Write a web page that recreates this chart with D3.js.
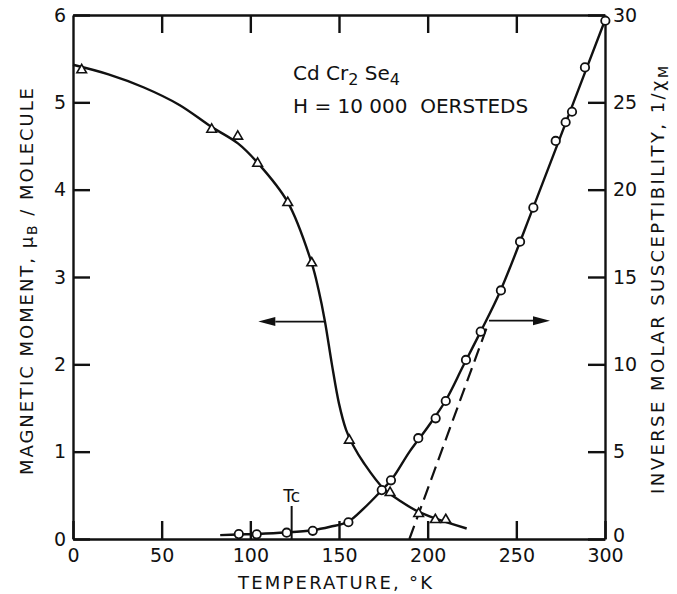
<!DOCTYPE html>
<html>
<head>
<meta charset="utf-8">
<script src="https://cdn.jsdelivr.net/npm/d3@7"></script>
<style>
  body { margin: 0; background: #fff; }
  svg { display: block; font-family: "DejaVu Sans", sans-serif; }
  .axis path, .axis line { stroke: #111; stroke-width: 2.4; }
  .axis text { font-size: 19px; fill: #111; font-family: "DejaVu Sans", sans-serif; }
</style>
</head>
<body>
<svg id="chart" width="677" height="594"></svg>
<script>
// tick values
var tempTicks = [0, 50, 100, 150, 200, 250, 300];
var momentTicks = [0, 1, 2, 3, 4, 5, 6];
var suscTicks = [0, 5, 10, 15, 20, 25, 30];

// measured points: magnetic moment (triangles, left axis)
var momentTemp = [4.9, 78.2, 92.9, 104.1, 121.1, 134.6, 155.8, 178.8, 194.9, 204.3, 210.2];
var momentValue = [5.37, 4.69, 4.61, 4.30, 3.85, 3.16, 1.13, 0.53, 0.29, 0.22, 0.22];

// measured points: inverse molar susceptibility (circles, right axis)
var suscTemp = [93.5, 103.6, 120.5, 135.2, 155.3, 174.1, 179.3, 194.7, 204.5, 210.2, 221.6, 229.9, 241.3, 252.1, 259.6, 272.2, 277.8, 281.4, 288.7, 300.2];
var suscValue = [0.28, 0.27, 0.36, 0.47, 0.96, 2.8, 3.36, 5.77, 6.91, 7.90, 10.25, 11.87, 14.23, 17.02, 18.97, 22.79, 23.86, 24.46, 27.0, 29.67];

// drawn-through curves
var momentCurveTemp = [0, 20, 40, 60, 78, 93, 104, 121, 134.6, 138.5, 142, 146, 150, 154, 158, 164, 175, 185, 195, 205, 222];
var momentCurveValue = [5.43, 5.32, 5.17, 4.97, 4.72, 4.53, 4.31, 3.86, 3.16, 2.85, 2.5, 2.0, 1.55, 1.25, 1.07, 0.87, 0.58, 0.43, 0.31, 0.23, 0.12];
var suscCurveTemp = [83, 93, 104, 120, 135, 145, 155, 164, 174, 180, 190, 200, 210, 220, 230, 241, 260, 280, 300];
var suscCurveValue = [0.22, 0.26, 0.29, 0.37, 0.5, 0.7, 0.98, 1.75, 2.78, 3.45, 5.03, 6.4, 7.9, 9.9, 11.9, 14.2, 19.1, 24.4, 29.7];

// Curie-Weiss extrapolation (dashed)
var dashTemp = [189.7, 234.2];
var dashValue = [0, 12.35];

// arrows pointing to each curve's axis
var arrowMomentTemp = [142, 104.5], arrowMomentValue = 2.49;
var arrowSuscTemp = [234.6, 269], arrowSuscValue = 12.5;

var tcTemp = 123.3;

(function draw() {
    var svg = d3.select("#chart");
    var plotLeft = 73, plotRight = 605, plotTop = 15, plotBottom = 539;

    var x = d3.scaleLinear().domain([0, 300]).range([plotLeft, plotRight]);
    var yL = d3.scaleLinear().domain([0, 6]).range([plotBottom, plotTop]);
    var yR = d3.scaleLinear().domain([0, 30]).range([plotBottom, plotTop]);
    var fmt = d3.format("d");

    // axes, ticks pointing inward
    svg.append("g").attr("class", "axis")
        .attr("transform", "translate(0," + plotBottom + ")")
        .call(d3.axisBottom(x).tickValues(tempTicks).tickFormat(fmt).tickSizeInner(-18).tickSizeOuter(0).tickPadding(10));
    svg.append("g").attr("class", "axis")
        .attr("transform", "translate(0," + plotTop + ")")
        .call(d3.axisTop(x).tickValues(tempTicks.slice(1, -1)).tickSizeInner(-18).tickSizeOuter(0).tickFormat(""));
    svg.append("g").attr("class", "axis")
        .attr("transform", "translate(" + plotLeft + ",0)")
        .call(d3.axisLeft(yL).tickValues(momentTicks).tickFormat(fmt).tickSizeInner(-17).tickSizeOuter(0).tickPadding(7));
    var rightAxis = svg.append("g").attr("class", "axis")
        .attr("transform", "translate(" + plotRight + ",0)")
        .call(d3.axisRight(yR).tickValues(suscTicks).tickFormat(fmt).tickSizeInner(-17).tickSizeOuter(0).tickPadding(8));
    // lift the right-hand "0" a little, as in the original
    rightAxis.selectAll(".tick text").filter(function(d) { return d === 0; }).attr("y", -4);

    // hide the end ticks that sit on the frame
    svg.selectAll(".axis .tick line").filter(function(d) { return d === 0 || d === 300 || d === 6 || d === 30; })
        .attr("stroke-width", 0);

    // axis titles
    svg.append("text")
        .attr("x", 335).attr("y", 589)
        .attr("text-anchor", "middle")
        .attr("textLength", 194).attr("lengthAdjust", "spacing")
        .style("font-size", "18px").style("fill", "#111")
        .text("TEMPERATURE, °K");

    var lt = svg.append("text")
        .attr("transform", "translate(33,281.5) rotate(-90)")
        .attr("text-anchor", "middle")
        .attr("textLength", 387).attr("lengthAdjust", "spacing")
        .style("font-size", "18px").style("fill", "#111");
    lt.append("tspan").text("MAGNETIC MOMENT, μ");
    lt.append("tspan").attr("dy", 4).style("font-size", "14px").text("B");
    lt.append("tspan").attr("dy", -4).text(" / MOLECULE");

    var rt = svg.append("text")
        .attr("transform", "translate(664,280) rotate(-90)")
        .attr("text-anchor", "middle")
        .attr("textLength", 428).attr("lengthAdjust", "spacing")
        .style("font-size", "18px").style("fill", "#111");
    rt.append("tspan").text("INVERSE MOLAR SUSCEPTIBILITY, 1/χ");
    rt.append("tspan").attr("dy", 4).style("font-size", "14px").text("M");

    // compound and field
    var ct = svg.append("text").attr("x", 293).attr("y", 80)
        .style("font-size", "20px").style("fill", "#111");
    ct.append("tspan").text("Cd Cr");
    ct.append("tspan").attr("dy", 5).style("font-size", "16px").text("2");
    ct.append("tspan").attr("dy", -5).text(" Se");
    ct.append("tspan").attr("dy", 5).style("font-size", "16px").text("4");

    svg.append("text").attr("x", 293).attr("y", 113)
        .style("font-size", "20px").style("fill", "#111").style("white-space", "pre")
        .text("H = 10 000  OERSTEDS");

    // curves
    var momentLine = d3.line()
        .x(function(d) { return x(d[0]); })
        .y(function(d) { return yL(d[1]); })
        .curve(d3.curveCatmullRom.alpha(0.5));
    var suscLine = d3.line()
        .x(function(d) { return x(d[0]); })
        .y(function(d) { return yR(d[1]); })
        .curve(d3.curveCatmullRom.alpha(0.5));

    svg.append("path")
        .datum(d3.zip(momentCurveTemp, momentCurveValue))
        .attr("d", momentLine)
        .attr("fill", "none").attr("stroke", "#111").attr("stroke-width", 2.4);
    svg.append("path")
        .datum(d3.zip(suscCurveTemp, suscCurveValue))
        .attr("d", suscLine)
        .attr("fill", "none").attr("stroke", "#111").attr("stroke-width", 2.4);
    svg.append("path")
        .datum(d3.zip(dashTemp, dashValue))
        .attr("d", d3.line().x(function(d) { return x(d[0]); }).y(function(d) { return yR(d[1]); }))
        .attr("fill", "none").attr("stroke", "#111").attr("stroke-width", 2.2)
        .attr("stroke-dasharray", "14,7");

    // arrows
    function arrow(x0, x1, yy) {
        var dir = x1 > x0 ? 1 : -1, head = 17;
        svg.append("line")
            .attr("x1", x0).attr("x2", x1 - dir * head).attr("y1", yy).attr("y2", yy)
            .attr("stroke", "#111").attr("stroke-width", 1.8);
        svg.append("path")
            .attr("d", "M" + x1 + "," + yy + "L" + (x1 - dir * head) + "," + (yy - 4.5) +
                "L" + (x1 - dir * head) + "," + (yy + 4.5) + "Z")
            .attr("fill", "#111");
    }
    arrow(x(arrowMomentTemp[0]), x(arrowMomentTemp[1]), yL(arrowMomentValue));
    arrow(x(arrowSuscTemp[0]), x(arrowSuscTemp[1]), yR(arrowSuscValue));

    // Curie temperature marker
    svg.append("line")
        .attr("x1", x(tcTemp)).attr("x2", x(tcTemp))
        .attr("y1", plotBottom).attr("y2", plotBottom - 33)
        .attr("stroke", "#111").attr("stroke-width", 2);
    svg.append("text")
        .attr("x", x(tcTemp)).attr("y", plotBottom - 37)
        .attr("text-anchor", "middle")
        .style("font-size", "17px").style("fill", "#111")
        .text("Tc");

    // markers
    svg.append("g").selectAll("circle")
        .data(d3.zip(suscTemp, suscValue))
        .enter().append("circle")
        .attr("cx", function(d) { return x(d[0]); })
        .attr("cy", function(d) { return yR(d[1]); })
        .attr("r", 4.2)
        .attr("fill", "#fff").attr("stroke", "#111").attr("stroke-width", 1.8);

    svg.append("g").selectAll("path")
        .data(d3.zip(momentTemp, momentValue))
        .enter().append("path")
        .attr("transform", function(d) { return "translate(" + x(d[0]) + "," + yL(d[1]) + ")"; })
        .attr("d", d3.symbol().type(d3.symbolTriangle).size(40))
        .attr("fill", "#fff").attr("stroke", "#111").attr("stroke-width", 1.6);
})();
</script>
</body>
</html>
